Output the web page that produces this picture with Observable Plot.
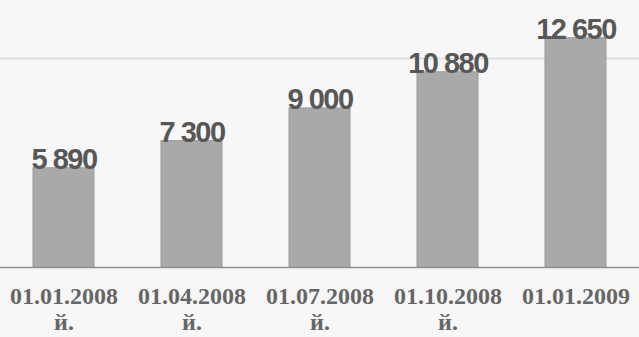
<!DOCTYPE html>
<html>
<head>
<meta charset="utf-8">
<script src="https://cdn.jsdelivr.net/npm/d3@7"></script>
<script src="https://cdn.jsdelivr.net/npm/@observablehq/plot@0.6"></script>
<style>
  html, body { margin: 0; padding: 0; background: #f7f7f7; }
  #chart svg { display: block; }
  #chart g[aria-label="text"] text { letter-spacing: -1.5px; }
</style>
</head>
<body>
<div id="chart"></div>
<script>
const dates = ["01.01.2008", "01.04.2008", "01.07.2008", "01.10.2008", "01.01.2009"];
const suffixes = ["й.", "й.", "й.", "й.", ""];
const values = [5890, 7300, 9000, 10880, 12650];
const gridValues = [11600];

const data = dates.map((d, i) => ({date: d, value: values[i]}));
const labelOf = new Map(dates.map((d, i) => [d, suffixes[i] ? d + "\n" + suffixes[i] : d]));
const fmt = d3.formatLocale({thousands: " ", grouping: [3], decimal: ","}).format(",d");

const chart = Plot.plot({
  width: 639,
  height: 337,
  marginTop: 0,
  marginBottom: 70,
  marginLeft: 0,
  marginRight: 0,
  style: {background: "transparent", overflow: "visible"},
  x: {domain: dates, paddingInner: 0.52, paddingOuter: 0.25, label: null},
  y: {domain: [730, 14610], axis: null},
  marks: [
    Plot.ruleY(gridValues, {stroke: "#d8d8d8", strokeWidth: 1.5}),
    Plot.barY(data, {x: "date", y: "value", fill: "#a9a9a9", stroke: "#9a9a9a", strokeWidth: 1, clip: true}),
    Plot.frame({anchor: "bottom", stroke: "#8f8f8f", strokeWidth: 1.5}),
    Plot.text(data, {
      x: "date", y: "value", text: d => fmt(d.value),
      lineAnchor: "bottom", dy: 1,
      fontSize: 29, fontWeight: "bold", fontFamily: "Arial, 'Liberation Sans', sans-serif",
      fill: "#575757"
    }),
    Plot.axisX({
      tickSize: 0, tickPadding: 18, label: null,
      tickFormat: d => labelOf.get(d),
      fontSize: 24, fontWeight: "bold", lineHeight: 1.08,
      fontFamily: "'Times New Roman', 'Liberation Serif', serif",
      fill: "#666666"
    })
  ]
});
document.getElementById("chart").appendChild(chart);
</script>
</body>
</html>
